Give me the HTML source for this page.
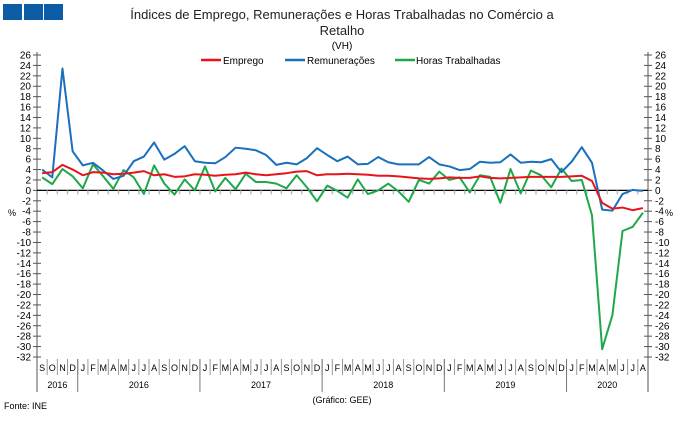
<!DOCTYPE html>
<html><head><meta charset="utf-8"><style>
body{margin:0;width:680px;height:417px;background:#fff;overflow:hidden;font-family:"Liberation Sans",sans-serif}
svg text{font-family:"Liberation Sans",sans-serif}
</style></head><body>
<svg id="c" width="680" height="417">
<rect x="3" y="4" width="19" height="16" fill="#0d5ca6"/>
<rect x="24" y="4" width="19" height="16" fill="#0d5ca6"/>
<rect x="44" y="4" width="19" height="16" fill="#0d5ca6"/>
<g font-size="13" fill="#222" text-anchor="middle">
<text x="342" y="19">Índices de Emprego, Remunerações e Horas Trabalhadas no Comércio a</text>
<text x="342" y="35">Retalho</text></g>
<text x="342" y="49" font-size="10" text-anchor="middle">(VH)</text>
<g font-size="10">
<g><line x1="201" y1="60" x2="221" y2="60" stroke="#e8141c" stroke-width="2.5"/><text x="223" y="64">Emprego</text></g>
<g><line x1="285" y1="60" x2="305" y2="60" stroke="#1a6fbe" stroke-width="2.5"/><text x="307" y="64">Remunerações</text></g>
<g><line x1="395" y1="60" x2="415" y2="60" stroke="#1fa84a" stroke-width="2.5"/><text x="416" y="64">Horas Trabalhadas</text></g>
</g>
<g id="axes"></g>
<g id="series"></g>
<text x="8" y="216" font-size="9">%</text>
<text x="665" y="216" font-size="9">%</text>
<text x="4" y="409" font-size="9">Fonte: INE</text>
<text x="342" y="403" font-size="9" text-anchor="middle">(Gráfico: GEE)</text>
</svg>
<script>
const months=["S","O","N","D","J","F","M","A","M","J","J","A","S","O","N","D","J","F","M","A","M","J","J","A","S","O","N","D","J","F","M","A","M","J","J","A","S","O","N","D","J","F","M","A","M","J","J","A","S","O","N","D","J","F","M","A","M","J","J","A"];
const years=[{label:"2016",n:4},{label:"2016",n:12},{label:"2017",n:12},{label:"2018",n:12},{label:"2019",n:12},{label:"2020",n:8}];
const emprego=[3.3,3.5,4.9,4.0,2.9,3.5,3.4,3.1,3.2,3.4,3.7,2.9,3.1,2.6,2.7,3.1,3.0,2.8,3.0,3.1,3.4,3.1,2.9,3.1,3.3,3.6,3.7,2.9,3.1,3.1,3.2,3.1,3.0,2.8,2.8,2.7,2.5,2.3,2.2,2.3,2.5,2.4,2.4,2.7,2.4,2.3,2.4,2.5,2.6,2.6,2.6,2.6,2.7,2.8,1.8,-2.4,-3.5,-3.3,-3.8,-3.4];
const remuneracoes=[4.0,2.5,23.4,7.5,4.8,5.3,3.8,2.2,2.8,5.6,6.5,9.2,5.9,7.0,8.5,5.6,5.3,5.2,6.4,8.2,8.0,7.7,6.8,4.9,5.3,5.0,6.2,8.1,6.8,5.6,6.5,5.0,5.1,6.4,5.4,5.0,5.0,5.0,6.4,5.0,4.6,3.9,4.1,5.5,5.3,5.4,6.9,5.3,5.5,5.4,6.0,3.5,5.5,8.3,5.3,-3.7,-3.9,-0.7,0.1,-0.1];
const horas=[2.5,1.2,4.1,2.7,0.4,5.0,2.7,0.3,3.9,2.5,-0.7,4.8,1.3,-0.8,2.1,0.0,4.6,-0.2,2.4,0.2,3.2,1.6,1.6,1.3,0.4,2.9,0.6,-2.1,0.9,-0.1,-1.4,2.1,-0.7,0.0,1.3,-0.2,-2.2,2.0,1.3,3.6,2.0,2.5,-0.4,2.9,2.6,-2.4,4.1,-0.6,3.8,2.9,0.6,4.2,1.8,2.0,-4.8,-30.5,-24.0,-7.8,-7.0,-4.3];
const yTicks=[26,24,22,20,18,16,14,12,10,8,6,4,2,0,-2,-4,-6,-8,-10,-12,-14,-16,-18,-20,-22,-24,-26,-28,-30,-32];

const NS="http://www.w3.org/2000/svg";
const X0=37,X1=648,Y0=55,Y1=357,YMAX=26,YMIN=-32;
const n=months.length,bw=(X1-X0)/n;
const x=i=>X0+bw*(i+0.5);
const y=v=>Y0+(YMAX-v)/(YMAX-YMIN)*(Y1-Y0);
function mk(tag,attrs,parent,text){const e=document.createElementNS(NS,tag);for(const k in attrs)e.setAttribute(k,attrs[k]);if(text!==undefined)e.textContent=text;parent.appendChild(e);return e;}
const ax=document.getElementById('axes');
let e;
e=mk('line',{x1:X0,y1:Y0-3,x2:X0,y2:Y1+35,stroke:"#555"},ax);


e=mk('line',{x1:X1,y1:Y0-3,x2:X1,y2:Y1+35,stroke:"#555"},ax);


yTicks.forEach(v=>{
  const yy=y(v);
  mk('line',{x1:X0-4,y1:yy,x2:X0+4,y2:yy,stroke:"#555"},ax);
  mk('line',{x1:X1-4,y1:yy,x2:X1+4,y2:yy,stroke:"#555"},ax);
  e=mk('text',{x:X0-6,y:yy+3.5,"font-size":"10","text-anchor":"end"},ax,String(v));
  
  
  e=mk('text',{x:X1+7,y:yy+3.5,"font-size":"10"},ax,String(v));
  
  
});
e=mk('line',{x1:X0,y1:y(0),x2:X1,y2:y(0),stroke:"#000","stroke-width":1.2},ax);


for(let i=1;i<n;i++){mk('line',{x1:X0+bw*i,y1:y(0),x2:X0+bw*i,y2:y(0)+4,stroke:"#bbb","stroke-width":1.5},ax);}
months.forEach((m,i)=>{
  e=mk('text',{x:x(i),y:Y1+14,"font-size":"9","text-anchor":"middle"},ax,m);
  
  
  if(i>0)mk('line',{x1:X0+bw*i,y1:Y1+2,x2:X0+bw*i,y2:Y1+18,stroke:"#999"},ax);
});
let acc=0;
years.forEach((yr,k)=>{
  const cx=X0+bw*(acc+yr.n/2);
  e=mk('text',{x:cx,y:Y1+31,"font-size":"9","text-anchor":"middle"},ax,yr.label);
  
  
  acc+=yr.n;
  if(k<years.length-1)mk('line',{x1:X0+bw*acc,y1:Y1+2,x2:X0+bw*acc,y2:Y1+35,stroke:"#777"},ax);
});
const sg=document.getElementById('series');
function line(data,color,name){
  const p=mk('polyline',{points:data.map((v,i)=>x(i)+","+y(v)).join(" "),fill:"none",stroke:color,"stroke-width":2,"stroke-linejoin":"round"},sg);
  
  
}
line(horas,"#1fa84a","series-horas-trabalhadas");
line(remuneracoes,"#1a6fbe","series-remuneracoes");
line(emprego,"#e8141c","series-emprego");
</script>
</body></html>
